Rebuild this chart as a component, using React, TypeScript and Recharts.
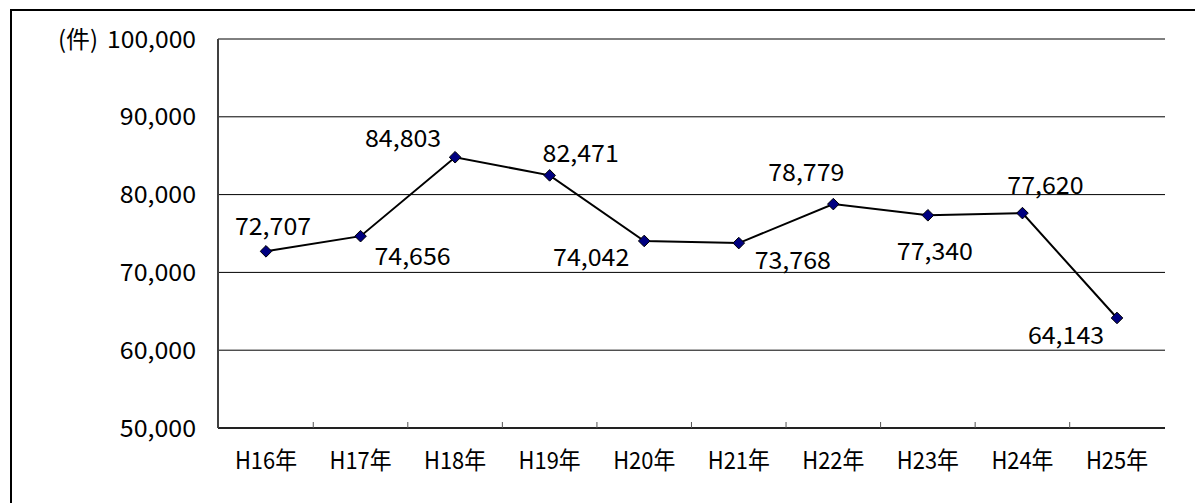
import React from 'react';
import { LineChart, Line, XAxis, YAxis, CartesianGrid, LabelList } from 'recharts';

const YEARS = ['H16年', 'H17年', 'H18年', 'H19年', 'H20年', 'H21年', 'H22年', 'H23年', 'H24年', 'H25年'];
const COUNTS = [72707, 74656, 84803, 82471, 74042, 73768, 78779, 77340, 77620, 64143];
const Y_TICKS = [50000, 60000, 70000, 80000, 90000, 100000];
const UNIT_LABEL = '(件)';
// label center offset relative to each point (dx, dy)
const LABEL_OFFSETS: [number, number][] = [
  [7, -25], [52, 20], [-52, -19], [31, -22], [-53, 17],
  [54, 17], [-27, -32], [7, 36], [23, -28], [-51, 18],
];

const data = YEARS.map((year, i) => ({ year, count: COUNTS[i] }));

const FONT = "'Noto Sans CJK JP', sans-serif";
const FONT_SIZE = 24;
const HALF_BAND = 47.3;
const HALF_W = 12.7; // width of a half-width character
const FULL_W = 24; // width of a full-width character

const fmt = (v: number) => v.toLocaleString('en-US');

const textWidth = (s: string) =>
  Array.from(s).reduce((w, ch) => w + (ch.charCodeAt(0) > 0xff ? FULL_W : HALF_W), 0);

const T = (props: any) => {
  const { children, width, ...rest } = props;
  const s = String(children);
  return (
    <text
      {...rest}
      fontFamily={FONT}
      fontSize={FONT_SIZE}
      fill="#000"
      textLength={width ?? textWidth(s)}
      lengthAdjust="spacingAndGlyphs"
    >
      {s}
    </text>
  );
};

const YTick = (props: any) => {
  const { x, y, payload } = props;
  return (
    <g>
      {payload.value === Y_TICKS[Y_TICKS.length - 1] && (
        <T x={58} y={y + 8.5} textAnchor="start" width={40}>{UNIT_LABEL}</T>
      )}
      <T x={x} y={y + 8.5} textAnchor="end">{fmt(payload.value)}</T>
    </g>
  );
};

const XTick = (props: any) => {
  const { x, y, payload, index } = props;
  return (
    <g>
      {index > 0 && (
        <line x1={x - HALF_BAND} x2={x - HALF_BAND} y1={y} y2={y - 6} stroke="#555" strokeWidth={1} />
      )}
      <T x={x} y={y + 40.5} textAnchor="middle">{payload.value}</T>
    </g>
  );
};

const Diamond = (props: any) => {
  const { cx, cy } = props;
  if (cx == null || cy == null) return null;
  const r = 5.8;
  return (
    <polygon
      points={`${cx},${cy - r} ${cx + r},${cy} ${cx},${cy + r} ${cx - r},${cy}`}
      fill="#000080"
      stroke="#000"
      strokeWidth={1}
    />
  );
};

const PointLabel = (props: any) => {
  const { x, y, value, index } = props;
  const off = LABEL_OFFSETS[index] || [0, -20];
  return (
    <T x={x + off[0]} y={y + off[1] + 8.5} textAnchor="middle">
      {fmt(value)}
    </T>
  );
};

export default function App() {
  return (
    <div style={{ position: 'absolute', left: 0, top: 0, width: 1195, height: 503, overflow: 'hidden', background: '#fff' }}>
      <div
        style={{
          position: 'absolute',
          left: 10,
          top: 9,
          width: 1300,
          height: 600,
          border: '2px solid #000',
          boxSizing: 'border-box',
        }}
      />
      <div style={{ position: 'absolute', left: 0, top: 0 }}>
        <LineChart width={1195} height={503} data={data} margin={{ top: 39, right: 30, bottom: 0, left: 0 }}>
          <CartesianGrid vertical={false} stroke="#000" strokeWidth={1} />
          <XAxis
            dataKey="year"
            height={75}
            padding={{ left: 48, right: 48 }}
            tickLine={false}
            tickSize={0}
            tickMargin={0}
            axisLine={{ stroke: '#222', strokeWidth: 2 }}
            tick={<XTick />}
            interval={0}
          />
          <XAxis
            xAxisId="top"
            dataKey="year"
            orientation="top"
            height={0}
            tick={false}
            tickLine={false}
            axisLine={{ stroke: '#404040', strokeWidth: 2 }}
          />
          <YAxis
            width={218}
            domain={[50000, 100000]}
            ticks={Y_TICKS}
            interval={0}
            tickLine={false}
            tickSize={0}
            tickMargin={22}
            axisLine={{ stroke: '#404040', strokeWidth: 2 }}
            tick={<YTick />}
          />
          <YAxis
            yAxisId="right"
            orientation="right"
            width={0}
            domain={[50000, 100000]}
            tick={false}
            tickLine={false}
            axisLine={{ stroke: '#606060', strokeWidth: 2.5 }}
          />
          <Line
            dataKey="count"
            stroke="#000"
            strokeWidth={2}
            dot={<Diamond />}
            activeDot={false}
            isAnimationActive={false}
          >
            <LabelList dataKey="count" content={<PointLabel />} />
          </Line>
        </LineChart>
      </div>
    </div>
  );
}
